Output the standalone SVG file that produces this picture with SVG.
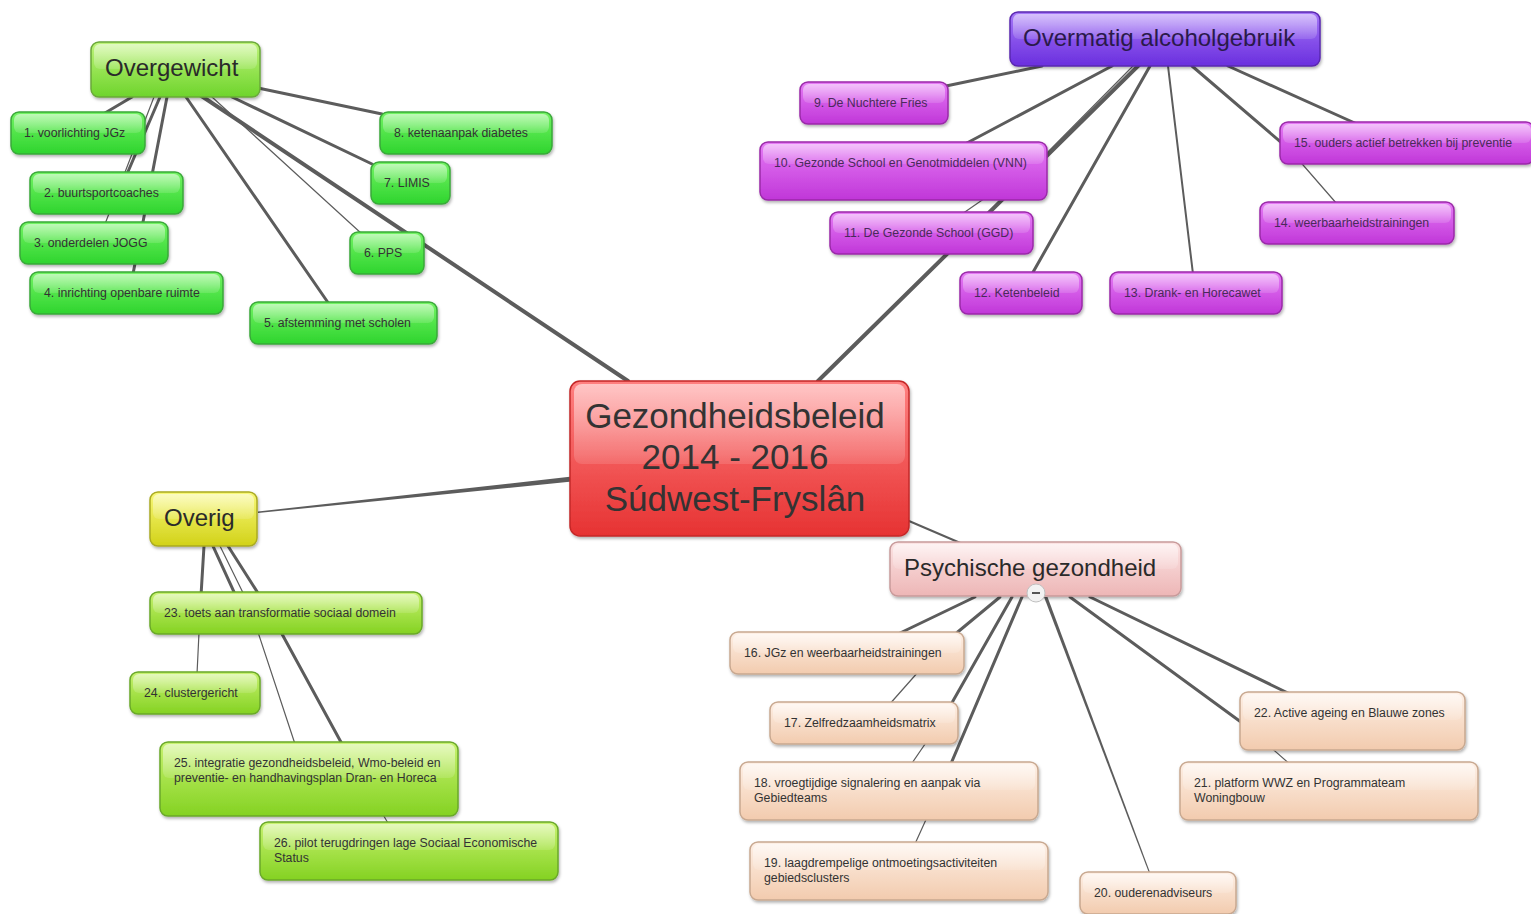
<svg xmlns="http://www.w3.org/2000/svg" width="1531" height="914" viewBox="0 0 1531 914">
<defs>
<linearGradient id="gGreen" x1="0" y1="0" x2="0" y2="1"><stop offset="0" stop-color="#74f464"/><stop offset="1" stop-color="#2ed42e"/></linearGradient>
<linearGradient id="gOver" x1="0" y1="0" x2="0" y2="1"><stop offset="0" stop-color="#bff47a"/><stop offset="1" stop-color="#6ed42c"/></linearGradient>
<linearGradient id="gRed" x1="0" y1="0" x2="0" y2="1"><stop offset="0" stop-color="#ff8080"/><stop offset="1" stop-color="#e63232"/></linearGradient>
<linearGradient id="gPurple" x1="0" y1="0" x2="0" y2="1"><stop offset="0" stop-color="#a678f8"/><stop offset="1" stop-color="#6a2ede"/></linearGradient>
<linearGradient id="gMag" x1="0" y1="0" x2="0" y2="1"><stop offset="0" stop-color="#e67cf6"/><stop offset="1" stop-color="#c036d8"/></linearGradient>
<linearGradient id="gPink" x1="0" y1="0" x2="0" y2="1"><stop offset="0" stop-color="#fce4e4"/><stop offset="1" stop-color="#edb6b6"/></linearGradient>
<linearGradient id="gPeach" x1="0" y1="0" x2="0" y2="1"><stop offset="0" stop-color="#fef0e6"/><stop offset="1" stop-color="#f2cbae"/></linearGradient>
<linearGradient id="gYellow" x1="0" y1="0" x2="0" y2="1"><stop offset="0" stop-color="#f8f878"/><stop offset="1" stop-color="#d2d218"/></linearGradient>
<linearGradient id="gLime" x1="0" y1="0" x2="0" y2="1"><stop offset="0" stop-color="#c8f270"/><stop offset="1" stop-color="#84d222"/></linearGradient>
<linearGradient id="gHi" x1="0" y1="0" x2="0" y2="1"><stop offset="0" stop-color="#ffffff" stop-opacity="0.55"/><stop offset="1" stop-color="#ffffff" stop-opacity="0.12"/></linearGradient>
<filter id="sh" x="-10%" y="-10%" width="120%" height="130%"><feDropShadow dx="1" dy="2" stdDeviation="1.5" flood-color="#000" flood-opacity="0.3"/></filter>
</defs>
<style>
.n rect.b{filter:url(#sh);stroke-width:1.5}
.hi{fill:url(#gHi)}
.t{font-family:"Liberation Sans",Arial,sans-serif;font-size:12.3px;fill:#333}
.h{font-family:"Liberation Sans",Arial,sans-serif;font-size:24px;fill:#2a2a2a}
.c{font-family:"Liberation Sans",Arial,sans-serif;font-size:35px;fill:#333;text-anchor:middle}
.green rect.b{fill:url(#gGreen);stroke:#3aa83a}
.over rect.b{fill:url(#gOver);stroke:#6aa83a}
.red rect.b{fill:url(#gRed);stroke:#c42828}
.purple rect.b{fill:url(#gPurple);stroke:#5a28b0}
.mag rect.b{fill:url(#gMag);stroke:#9a2aa8}
.mag .t{fill:#4a2a5a}
.purple .h{fill:#2a1a4a}
.pink rect.b{fill:url(#gPink);stroke:#c89a9a}
.peach rect.b{fill:url(#gPeach);stroke:#c8a890}
.yellow rect.b{fill:url(#gYellow);stroke:#aaaa22}
.lime rect.b{fill:url(#gLime);stroke:#6aa82a}
#connectors path{fill:none;stroke:#5c5c5c;stroke-linecap:round;stroke-linejoin:round}
#connectors polygon{fill:#5c5c5c}
.w1{stroke-width:1.2}.w2{stroke-width:2}.w3{stroke-width:3}.w4{stroke-width:4}
</style>
<rect width="1531" height="914" fill="#ffffff"/>
<g id="connectors">
<path class="w4" d="M628,381 L200,95"/>
<path class="w4" d="M818,381 L1140,64"/>
<polygon points="572,476.5 572,481.5 258,513 258,511.5"/>
<path class="w2" d="M909,521 L965,545"/>
<path class="w3" d="M132,97 L105,113"/>
<path class="w3" d="M160,97 L127,174"/>
<path class="w1" d="M154,97 L105,224"/>
<path class="w3" d="M167,97 L133,274"/>
<path class="w3" d="M186,97 L329,304"/>
<path class="w1" d="M212,97 L362,234"/>
<path class="w3" d="M232,97 L372,164"/>
<path class="w3" d="M258,88 L382,114"/>
<path class="w3" d="M1042,66 L946,86"/>
<path class="w3" d="M1112,66 L965,144"/>
<path class="w1" d="M1133,66 L1040,160 L962,214"/>
<path class="w3" d="M1150,66 L1032,274"/>
<path class="w2" d="M1168,66 L1193,274"/>
<path class="w3" d="M1192,66 L1290,150"/>
<path class="w1" d="M1290,150 L1337,204"/>
<path class="w3" d="M1228,66 L1357,124"/>
<path class="w3" d="M204,546 L200,612"/>
<path class="w1" d="M200,612 L197,674"/>
<path class="w3" d="M213,546 L235,594"/>
<path class="w1" d="M220,546 L249,605 L295,744"/>
<path class="w3" d="M228,546 L270,612 L342,744"/>
<path class="w1" d="M342,744 L392,830"/>
<path class="w3" d="M975,597 L898,634"/>
<path class="w3" d="M1000,597 L942,645"/>
<path class="w1" d="M942,645 L888,706"/>
<path class="w3" d="M1012,597 L945,715"/>
<path class="w1" d="M945,715 L910,766"/>
<path class="w3" d="M1022,597 L944,780"/>
<path class="w1" d="M944,780 L914,846"/>
<polygon points="1044,597 1047.5,597 1150.6,874 1149.4,874"/>
<path class="w3" d="M1070,597 L1245,725"/>
<path class="w1" d="M1245,725 L1292,766"/>
<path class="w3" d="M1090,597 L1290,694"/>
</g>
<g id="n-center" class="n red"><rect class="b" x="570" y="381" width="339" height="155" rx="10"/><rect class="hi" x="574" y="384" width="331" height="80" rx="8"/><text class="c" x="735" y="428">Gezondheidsbeleid</text><text class="c" x="735" y="469">2014 - 2016</text><text class="c" x="735" y="511">Súdwest-Fryslân</text></g>
<g id="n-overgewicht" class="n over"><rect class="b" x="91" y="42" width="169" height="55" rx="8"/><rect class="hi" x="94" y="44" width="163" height="25" rx="6"/><text class="h" x="105" y="76">Overgewicht</text></g>
<g id="n1" class="n green"><rect class="b" x="11" y="112" width="134" height="42" rx="8"/><rect class="hi" x="14" y="114" width="128" height="19" rx="6"/><text class="t" x="24" y="137">1. voorlichting JGz</text></g>
<g id="n2" class="n green"><rect class="b" x="30" y="172" width="153" height="42" rx="8"/><rect class="hi" x="33" y="174" width="147" height="19" rx="6"/><text class="t" x="44" y="197">2. buurtsportcoaches</text></g>
<g id="n3" class="n green"><rect class="b" x="20" y="222" width="148" height="42" rx="8"/><rect class="hi" x="23" y="224" width="142" height="19" rx="6"/><text class="t" x="34" y="247">3. onderdelen JOGG</text></g>
<g id="n4" class="n green"><rect class="b" x="30" y="272" width="193" height="42" rx="8"/><rect class="hi" x="33" y="274" width="187" height="19" rx="6"/><text class="t" x="44" y="297">4. inrichting openbare ruimte</text></g>
<g id="n5" class="n green"><rect class="b" x="250" y="302" width="187" height="42" rx="8"/><rect class="hi" x="253" y="304" width="181" height="19" rx="6"/><text class="t" x="264" y="327">5. afstemming met scholen</text></g>
<g id="n6" class="n green"><rect class="b" x="350" y="232" width="74" height="42" rx="8"/><rect class="hi" x="353" y="234" width="68" height="19" rx="6"/><text class="t" x="364" y="257">6. PPS</text></g>
<g id="n7" class="n green"><rect class="b" x="371" y="162" width="79" height="42" rx="8"/><rect class="hi" x="374" y="164" width="73" height="19" rx="6"/><text class="t" x="384" y="187">7. LIMIS</text></g>
<g id="n8" class="n green"><rect class="b" x="380" y="112" width="172" height="42" rx="8"/><rect class="hi" x="383" y="114" width="166" height="19" rx="6"/><text class="t" x="394" y="137">8. ketenaanpak diabetes</text></g>
<g id="n-alcohol" class="n purple"><rect class="b" x="1010" y="12" width="310" height="54" rx="8"/><rect class="hi" x="1013" y="14" width="304" height="25" rx="6"/><text class="h" x="1023" y="46">Overmatig alcoholgebruik</text></g>
<g id="n9" class="n mag"><rect class="b" x="800" y="82" width="148" height="42" rx="8"/><rect class="hi" x="803" y="84" width="142" height="19" rx="6"/><text class="t" x="814" y="107">9. De Nuchtere Fries</text></g>
<g id="n10" class="n mag"><rect class="b" x="760" y="142" width="287" height="58" rx="8"/><rect class="hi" x="763" y="144" width="281" height="20" rx="6"/><text class="t" x="774" y="167">10. Gezonde School en Genotmiddelen (VNN)</text></g>
<g id="n11" class="n mag"><rect class="b" x="830" y="212" width="203" height="42" rx="8"/><rect class="hi" x="833" y="214" width="197" height="19" rx="6"/><text class="t" x="844" y="237">11. De Gezonde School (GGD)</text></g>
<g id="n12" class="n mag"><rect class="b" x="960" y="272" width="122" height="42" rx="8"/><rect class="hi" x="963" y="274" width="116" height="19" rx="6"/><text class="t" x="974" y="297">12. Ketenbeleid</text></g>
<g id="n13" class="n mag"><rect class="b" x="1110" y="272" width="172" height="42" rx="8"/><rect class="hi" x="1113" y="274" width="166" height="19" rx="6"/><text class="t" x="1124" y="297">13. Drank- en Horecawet</text></g>
<g id="n14" class="n mag"><rect class="b" x="1260" y="202" width="194" height="42" rx="8"/><rect class="hi" x="1263" y="204" width="188" height="19" rx="6"/><text class="t" x="1274" y="227">14. weerbaarheidstrainingen</text></g>
<g id="n15" class="n mag"><rect class="b" x="1280" y="122" width="254" height="42" rx="8"/><rect class="hi" x="1283" y="124" width="248" height="19" rx="6"/><text class="t" x="1294" y="147">15. ouders actief betrekken bij preventie</text></g>
<g id="n-overig" class="n yellow"><rect class="b" x="150" y="492" width="107" height="54" rx="8"/><rect class="hi" x="153" y="494" width="101" height="25" rx="6"/><text class="h" x="164" y="526">Overig</text></g>
<g id="n23" class="n lime"><rect class="b" x="150" y="592" width="272" height="42" rx="8"/><rect class="hi" x="153" y="594" width="266" height="19" rx="6"/><text class="t" x="164" y="617">23. toets aan transformatie sociaal domein</text></g>
<g id="n24" class="n lime"><rect class="b" x="130" y="672" width="130" height="42" rx="8"/><rect class="hi" x="133" y="674" width="124" height="19" rx="6"/><text class="t" x="144" y="697">24. clustergericht</text></g>
<g id="n25" class="n lime"><rect class="b" x="160" y="742" width="298" height="74" rx="8"/><rect class="hi" x="163" y="744" width="292" height="34" rx="6"/><text class="t" x="174" y="767">25. integratie gezondheidsbeleid, Wmo-beleid en</text><text class="t" x="174" y="782">preventie- en handhavingsplan Dran- en Horeca</text></g>
<g id="n26" class="n lime"><rect class="b" x="260" y="822" width="298" height="58" rx="8"/><rect class="hi" x="263" y="824" width="292" height="26" rx="6"/><text class="t" x="274" y="847">26. pilot terugdringen lage Sociaal Economische</text><text class="t" x="274" y="862">Status</text></g>
<g id="n-psych" class="n pink"><rect class="b" x="890" y="542" width="291" height="54" rx="8"/><rect class="hi" x="893" y="544" width="285" height="25" rx="6"/><text class="h" x="904" y="576">Psychische gezondheid</text><circle cx="1036" cy="593" r="9" fill="#f2f2f2" stroke="#c0c0c0" stroke-width="1"/><rect x="1032" y="592" width="8" height="2" fill="#555"/></g>
<g id="n16" class="n peach"><rect class="b" x="730" y="632" width="234" height="42" rx="8"/><rect class="hi" x="733" y="634" width="228" height="19" rx="6"/><text class="t" x="744" y="657">16. JGz en weerbaarheidstrainingen</text></g>
<g id="n17" class="n peach"><rect class="b" x="770" y="702" width="188" height="42" rx="8"/><rect class="hi" x="773" y="704" width="182" height="19" rx="6"/><text class="t" x="784" y="727">17. Zelfredzaamheidsmatrix</text></g>
<g id="n18" class="n peach"><rect class="b" x="740" y="762" width="298" height="58" rx="8"/><rect class="hi" x="743" y="764" width="292" height="26" rx="6"/><text class="t" x="754" y="787">18. vroegtijdige signalering en aanpak via</text><text class="t" x="754" y="802">Gebiedteams</text></g>
<g id="n19" class="n peach"><rect class="b" x="750" y="842" width="298" height="58" rx="8"/><rect class="hi" x="753" y="844" width="292" height="26" rx="6"/><text class="t" x="764" y="867">19. laagdrempelige ontmoetingsactiviteiten</text><text class="t" x="764" y="882">gebiedsclusters</text></g>
<g id="n20" class="n peach"><rect class="b" x="1080" y="872" width="156" height="42" rx="8"/><rect class="hi" x="1083" y="874" width="150" height="19" rx="6"/><text class="t" x="1094" y="897">20. ouderenadviseurs</text></g>
<g id="n21" class="n peach"><rect class="b" x="1180" y="762" width="298" height="58" rx="8"/><rect class="hi" x="1183" y="764" width="292" height="26" rx="6"/><text class="t" x="1194" y="787">21. platform WWZ en Programmateam</text><text class="t" x="1194" y="802">Woningbouw</text></g>
<g id="n22" class="n peach"><rect class="b" x="1240" y="692" width="225" height="58" rx="8"/><rect class="hi" x="1243" y="694" width="219" height="26" rx="6"/><text class="t" x="1254" y="717">22. Active ageing en Blauwe zones</text></g>
</svg>
